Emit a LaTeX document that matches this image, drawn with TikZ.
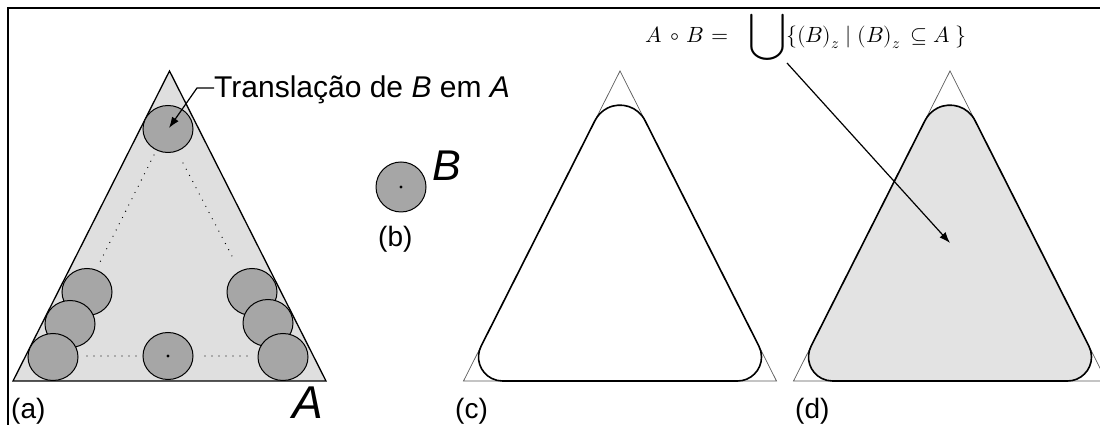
\documentclass[tikz,border=0pt]{standalone}
\usepackage{unicode-math}
\setmainfont{Liberation Sans}
\setmathfont{Latin Modern Math}
\usetikzlibrary{arrows.meta}

\tikzset{
  disk/.style={fill=gray!70, draw=black, line width=1pt},
  lbl/.style={font=\fontsize{28}{30}\selectfont, inner sep=0pt, anchor=base west},
  pointer/.style={-{Latex[length=11pt,width=8pt]}, line width=1.2pt},
  guide/.style={line width=1.3pt, line cap=round, dash pattern=on 0pt off 7pt},
}

\begin{document}
\begin{tikzpicture}[x=1pt, y=1pt]
    \clip (0,0) rectangle (1100,425);
    % frame
    \draw[line width=2pt] (8,0) -- (8,417) -- (1100,417);
    % (a) set A with translates of B
    \filldraw[fill=gray!25, draw=black, line width=1.3pt] (13,44) -- (169.5,354) -- (326,44) -- cycle;
    \draw[guide] (154,270) -- (100,163);
    \draw[guide] (183,262) -- (233,167);
    \draw[guide] (87,69) -- (142,69);
    \draw[guide] (205,69) -- (248,69);
    \foreach \x/\y in {168/296, 87/133, 70/101, 53/68, 168/69, 252/133, 268/102, 283/68}
        \filldraw[disk] (\x,\y) ellipse (25 and 23.5);
    \fill (168,69) circle (1.6);
    \coordinate (ctop) at (169,297);
    \node[lbl, font=\fontsize{30}{32}\selectfont] (trans) at (214,327) {Translação de \textit{B} em \textit{A}};
    \draw[pointer] ([yshift=10pt]trans.base west) -- ++(-17,0) -- (ctop);
    \node[lbl] (la) at (11,6) {(a)};
    \node[lbl, font=\fontsize{46}{46}\selectfont\itshape] (setA) at (292,6) {A};
    % (b) structuring element B
    \filldraw[disk] (401,238) circle (25);
    \fill (401,238) circle (1.6);
    \node[lbl, font=\fontsize{43}{43}\selectfont\itshape] (setB) at (432,244) {B};
    \node[lbl] (lb) at (378,178) {(b)};
    % (c) and (d) opening of A by B
    \foreach \cx/\fc in {620/white, 950/gray!22} {
        \draw[gray!70!black, line width=0.7pt] (\cx-156.5,44) -- (\cx,354) -- (\cx+156.5,44) -- cycle;
        \filldraw[fill=\fc, draw=black, line width=1.6pt]
            (\cx+117.5,44) arc[start angle=-90, end angle=26.79, radius=24]
            -- ([shift={(\cx,291.86)}]26.79:28) arc[start angle=26.79, end angle=153.21, radius=28]
            -- ([shift={(\cx-117.5,68)}]153.21:24) arc[start angle=153.21, end angle=270, radius=24]
            -- cycle;
    }
    \node[lbl] (lc) at (455,6) {(c)};
    \node[lbl] (ld) at (795,6) {(d)};
    % formula and pointer into (d)
    \node[inner sep=0pt, anchor=base west, font=\fontsize{22}{24}\selectfont] (eq) at (645,382)
        {$A\hspace{9pt}{\circ}\hspace{7pt}B\hspace{7pt}{=}\hspace{20pt}\vcenter{\hbox{\scalebox{1.55}{$\displaystyle\bigcup$}}}\{(B)_z\;|\;(B)_z\,\subseteq A\;\}$};
    \coordinate (eqtail) at (787,362);
    \coordinate (dmid) at (950,182);
    \draw[pointer] (eqtail) -- (dmid);
\end{tikzpicture}
\end{document}
